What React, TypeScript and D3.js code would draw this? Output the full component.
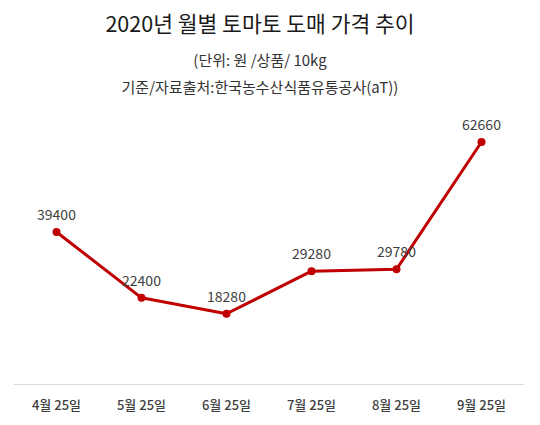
import * as d3 from "d3";
import { useRef, useEffect, ReactElement } from "react";

const months = ["4월 25일", "5월 25일", "6월 25일", "7월 25일", "8월 25일", "9월 25일"];
const prices = [39400, 22400, 18280, 29280, 29780, 62660];

const titleLines = [
  "2020년 월별 토마토 도매 가격 추이",
  "(단위: 원 /상품/ 10kg",
  "기준/자료출처:한국농수산식품유통공사(aT))",
];

const width = 540;
const height = 425;
const font = "'Noto Sans CJK KR', 'Noto Sans', sans-serif";

const App = (): ReactElement => {
  const svgRef = useRef(null);

  useEffect(() => {
    if (!svgRef.current) return;
    const svg = d3.select(svgRef.current);

    const xScale = d3.scaleBand().domain(months).range([14, 524]);
    const yScale = d3.scaleLinear().domain([0, 70000]).range([384.5, 113.6]);
    const cx = (m: string) => xScale(m)! + xScale.bandwidth() / 2;

    // titles
    svg.selectAll("text.title")
      .data(titleLines)
      .enter()
      .append("text")
      .attr("class", "title")
      .attr("x", 260)
      .attr("y", (d, i) => [32, 66, 93][i])
      .attr("text-anchor", "middle")
      .attr("font-family", font)
      .attr("font-size", (d, i) => (i === 0 ? 21.5 : 15))
      .attr("fill", (d, i) => (i === 0 ? "#1a1a1a" : "#333"))
      .text((d) => d);

    // x axis
    svg.append("line")
      .attr("x1", 14)
      .attr("x2", 524)
      .attr("y1", yScale(0))
      .attr("y2", yScale(0))
      .attr("stroke", "#d9d9d9")
      .attr("stroke-width", 1);

    svg.selectAll("text.xlab")
      .data(months)
      .enter()
      .append("text")
      .attr("class", "xlab")
      .attr("x", (d) => cx(d))
      .attr("y", 410)
      .attr("text-anchor", "middle")
      .attr("font-family", font)
      .attr("font-size", 13)
      .attr("font-weight", 500)
      .attr("fill", "#404040")
      .text((d) => d);

    const line = d3.line<number>()
      .x((d, i) => cx(months[i]))
      .y((d) => yScale(d));

    svg.append("path")
      .datum(prices)
      .attr("d", line)
      .attr("fill", "none")
      .attr("stroke", "#c00000")
      .attr("stroke-width", 3)
      .attr("stroke-linejoin", "round");

    svg.selectAll("circle")
      .data(prices)
      .enter()
      .append("circle")
      .attr("cx", (d, i) => cx(months[i]))
      .attr("cy", (d) => yScale(d))
      .attr("r", 4)
      .attr("fill", "#c00000");

    svg.selectAll("text.val")
      .data(prices)
      .enter()
      .append("text")
      .attr("class", "val")
      .attr("x", (d, i) => cx(months[i]))
      .attr("y", (d) => yScale(d) - 12)
      .attr("text-anchor", "middle")
      .attr("font-family", font)
      .attr("font-size", 14)
      .attr("fill", "#404040")
      .text((d) => d);

    return () => {
      svg.selectAll("*").remove();
    };
  }, []);

  return (
    <svg
      width={width}
      height={height}
      ref={svgRef}
      style={{ position: "absolute", left: 0, top: 0, background: "#fff" }}
    ></svg>
  );
};

export default App;
